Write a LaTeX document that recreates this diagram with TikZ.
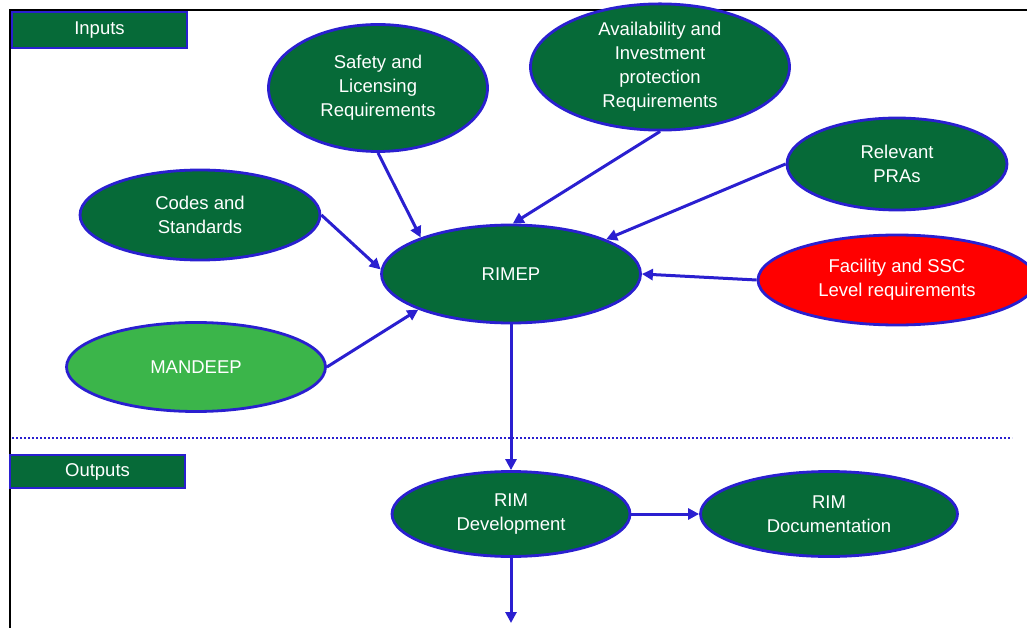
\documentclass[tikz,border=0pt]{standalone}
\usepackage{fontspec}
\setmainfont{Liberation Sans}
\usetikzlibrary{shapes.geometric,arrows.meta}
\definecolor{dgreen}{HTML}{066A38}
\definecolor{lgreen}{HTML}{3BB54A}
\definecolor{bred}{HTML}{FF0000}
\definecolor{bblue}{HTML}{2A1FD0}
\begin{document}
\begin{tikzpicture}[x=1pt,y=-1pt,
  oval/.style={ellipse,draw=bblue,line width=2.8pt,fill=dgreen,text=white,inner sep=0pt,align=center,font=\fontsize{18.5}{24}\selectfont},
  label box/.style={rectangle,draw=bblue,line width=2.6pt,fill=dgreen,text=white,inner sep=0pt,font=\fontsize{18.5}{24}\selectfont},
  arr/.style={draw=bblue,line width=3pt,-{Triangle[length=11pt,width=11pt]}}]
\useasboundingbox (0,0) rectangle (1027,628);
\draw[black,line width=2.4pt] (10,640) -- (10,10) -- (1040,10);
\node[label box,minimum width=175pt,minimum height=36pt] (inputs) at (99.5,30) {Inputs};
\node[label box,minimum width=175pt,minimum height=33pt] (outputs) at (97.5,471.5) {Outputs};
\draw[bblue,line width=2.8pt,dash pattern=on 2pt off 2pt] (12,438) -- (1012,438);
\node[oval,minimum width=219pt,minimum height=127pt] (safety) at (378,88) {Safety and\\Licensing\\Requirements};
\node[oval,minimum width=259pt,minimum height=101pt] (avail) at (660,67) {Availability and\\Investment\\protection\\Requirements};
\node[oval,minimum width=240pt,minimum height=90pt] (codes) at (200,215) {Codes and\\Standards};
\node[oval,minimum width=259pt,minimum height=98pt] (rimep) at (511,274) {RIMEP};
\node[oval,minimum width=220pt,minimum height=92pt] (pras) at (897,164) {Relevant\\PRAs};
\node[oval,fill=bred,minimum width=278pt,minimum height=90pt] (facility) at (897,280) {Facility and SSC\\Level requirements};
\node[oval,fill=lgreen,minimum width=259pt,minimum height=89pt] (mandeep) at (196,367) {MANDEEP};
\node[oval,minimum width=238pt,minimum height=85pt] (rimdev) at (511,514) {RIM\\Development};
\node[oval,minimum width=257pt,minimum height=85pt] (rimdoc) at (829,514) {RIM\\Documentation};
\coordinate (out) at (511,623);
\draw[arr] (safety.south) -- (rimep.158);
\draw[arr] (codes.east) -- (rimep.178);
\draw[arr] (mandeep.east) -- (rimep.201);
\draw[arr] (avail.south) -- (rimep.88);
\draw[arr] (pras.west) -- (rimep.20);
\draw[arr] (facility.west) -- (rimep.0);
\draw[arr] (rimep.south) -- (rimdev.north);
\draw[arr] (rimdev.east) -- (rimdoc.west);
\draw[arr] (rimdev.south) -- (out);
\end{tikzpicture}
\end{document}
